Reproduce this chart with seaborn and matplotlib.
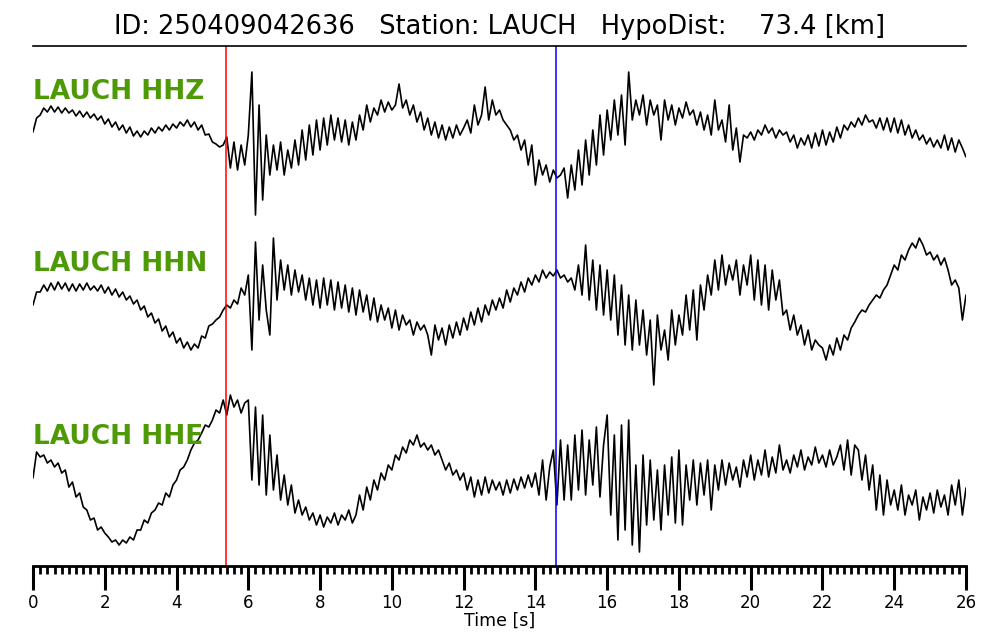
import numpy as np
import matplotlib
matplotlib.use("Agg")
import matplotlib.pyplot as plt
import seaborn as sns

# 波形データ（0.1秒ごとに読み取った振幅，上向きが正）
dt = 0.1
hhz = [
    -2, 12, 15, 22, 18, 24, 18, 23, 17, 22,
    17, 20, 14, 19, 13, 18, 12, 16, 10, 14,
    6, 11, 3, 8, 0, 5, -3, 3, -6, -1,
    -7, -1, -5, 2, -3, 3, -1, 5, 0, 6,
    2, 8, 4, 10, 3, 8, 0, 5, -5, -4,
    -12, -14, -17, -15, -7, -38, -12, -40, -15, -35,
    -5, 58, -85, 25, -70, -5, -45, -15, -40, -12,
    -45, -20, -38, -10, -35, 0, -30, 5, -25, 10,
    -20, 12, -15, 15, -10, 12, -12, 10, -15, 8,
    -10, 15, 0, 25, 8, 22, 15, 30, 18, 28,
    20, 25, 46, 22, 30, 15, 25, 8, 18, 0,
    12, -5, 8, -8, 5, -10, 3, -8, 5, -5,
    2, 10, -3, 25, 5, 15, 43, 10, 30, 15,
    20, 10, 5, 0, -10, -5, -20, -10, -35, -15,
    -55, -30, -45, -35, -52, -40, -48, -45, -38, -68,
    -35, -60, -20, -55, -10, -45, 0, -35, 15, -25,
    20, -10, 30, -5, 35, -15, 58, 10, 30, 15,
    35, 5, 30, 15, 25, -10, 30, 10, 25, 5,
    22, 12, 28, 15, 20, 5, 18, 0, 15, -5,
    30, 0, 10, -12, 25, -20, 2, -32, -5, -8,
    -2, -10, 0, -5, 5, -3, 2, -8, 0, -5,
    -2, -12, -5, -18, -8, -15, -5, -18, -3, -16,
    0, -15, -2, -12, 3, -8, 5, 0, 8, 3,
    12, 5, 15, 8, 10, 2, 12, 0, 12, -2,
    12, -3, 10, -5, 5, -8, 0, -10, -5, -14,
    -8, -17, -10, -18, -5, -20, -8, -22, -10, -18,
    -27,
]
hhn = [
    -5, 8, 8, 15, 9, 17, 10, 18, 11, 17,
    9, 16, 9, 16, 10, 17, 10, 14, 9, 15,
    7, 13, 5, 11, 3, 8, 0, 4, -4, 0,
    -10, -6, -17, -13, -23, -19, -31, -26, -37, -32,
    -43, -38, -48, -42, -50, -44, -48, -36, -38, -26,
    -24, -20, -17, -10, -5, -8, 0, -4, 12, 5,
    25, -50, 58, -20, 35, -10, -35, 62, 0, 40,
    10, 35, 5, 30, 8, 25, 0, 22, -5, 20,
    -8, 22, -5, 20, -10, 18, -8, 15, -12, 12,
    -15, 10, -12, 5, -20, 2, -22, -5, -20, -8,
    -28, -10, -30, -15, -25, -20, -35, -22, -30, -25,
    -35, -55, -25, -40, -28, -45, -25, -38, -22, -35,
    -18, -30, -12, -25, -8, -22, -5, -15, 0, -10,
    2, -8, 10, -2, 12, 5, 18, 8, 22, 15,
    25, 18, 30, 22, 28, 24, 30, 22, 25, 18,
    22, 10, 35, 5, 55, 0, 40, -10, 35, -15,
    30, -20, 25, -35, 15, -45, 5, -50, 0, -45,
    -10, -55, -20, -85, -15, -50, -30, -60, -10, -45,
    -15, -35, 5, -30, 10, -40, 15, -10, 25, 5,
    40, 10, 45, 15, 35, 20, 40, 5, 35, 15,
    45, 0, 40, -5, 35, -10, 30, 0, 20, -15,
    -10, -30, -15, -35, -25, -45, -30, -50, -40, -45,
    -48, -60, -45, -55, -38, -50, -35, -40, -28, -22,
    -15, -10, -12, -5, 0, 5, 2, 10, 15, 25,
    35, 30, 45, 40, 50, 57, 52, 62, 55, 45,
    48, 40, 45, 35, 42, 30, 15, 20, 12, -20,
    5,
]
hhe = [
    7, 33, 28, 30, 22, 25, 18, 22, 12, 15,
    -2, 3, -12, -8, -22, -25, -35, -33, -45, -42,
    -48, -52, -57, -55, -60, -55, -58, -52, -55, -45,
    -45, -35, -38, -28, -25, -18, -20, -8, -12, 0,
    5, 15, 18, 25, 35, 42, 45, 52, 60, 58,
    65, 75, 72, 85, 70, 90, 78, 85, 72, 82,
    85, 5, 78, 0, 70, -10, 50, -5, 30, -15,
    10, -20, 0, -28, -15, -30, -22, -35, -28, -40,
    -30, -42, -32, -38, -28, -40, -30, -35, -25, -38,
    -30, -10, -25, -2, -15, 5, -5, 12, 5, 20,
    15, 30, 25, 38, 32, 45, 40, 50, 38, 42,
    35, 40, 30, 35, 25, 15, 22, 10, 15, 5,
    12, -5, 8, -12, 5, -10, 8, -8, 5, -5,
    3, -10, 5, -8, 6, -5, 8, -3, 10, -2,
    12, -10, 25, -15, 18, 35, -20, 45, -15, 40,
    -15, 50, -5, 55, -10, 45, 0, 58, -12, 40,
    70, -30, 50, -55, 60, -45, 65, -60, 20, -67,
    30, -40, 25, -35, 15, -45, 20, -30, 28, -38,
    35, -40, 20, -15, 25, -20, 22, -10, 25, -25,
    20, -5, 25, 0, 22, 5, 18, -2, 25, 8,
    30, 5, 25, 10, 35, 8, 28, 12, 40, 15,
    25, 12, 30, 18, 35, 15, 28, 20, 38, 22,
    30, 18, 35, 20, 28, 40, 15, 45, 10, 40,
    35, 5, 30, -5, 20, -25, 10, -30, 5, -20,
    -5, -25, 0, -30, -10, -20, -5, -35, -12, -25,
    -8, -28, -5, -22, -10, -30, 0, -20, 5, -30,
    -3,
]
channels = ["LAUCH HHZ", "LAUCH HHN", "LAUCH HHE"]
traces = [hhz, hhn, hhe]
offsets = [436, 266, 81]
label_y = [474, 302, 129]

event_id = "250409042636"
station = "LAUCH"
hypo_dist = 73.4
p_pick = 5.38
s_pick = 14.57

sns.set_style("white")
plt.rcParams["font.family"] = ["DejaVu Sans"]
plt.rcParams["text.color"] = "black"
plt.rcParams["axes.labelcolor"] = "black"
plt.rcParams["xtick.color"] = "black"
plt.rcParams["axes.edgecolor"] = "black"

fig = plt.figure(figsize=(10, 6.4), dpi=100)
ax = fig.add_axes([0.033, 0.1156, 0.933, 0.8125])

for name, tr, off, ly in zip(channels, traces, offsets, label_y):
    tr = np.array(tr, dtype=float)
    t = np.round(np.arange(len(tr)) * dt, 2)
    sns.lineplot(x=t, y=tr + off, color="black", linewidth=1.2, ax=ax)
    ax.text(0, ly, name, color="#4e9a06", fontsize=19, fontweight="bold",
            ha="left", va="center", zorder=5)

# P波・S波の読み取り時刻
ax.axvline(p_pick, color="red", linewidth=1.1)
ax.axvline(s_pick, color="blue", linewidth=1.1)

ax.set_xlim(0, 26)
ax.set_ylim(0, 520)
ax.set_yticks([])
ax.set_xticks(np.arange(0, 27, 2))
ax.set_xticks(np.arange(0, 26.01, 0.2), minor=True)
ax.tick_params(axis="x", which="both", bottom=True, colors="black", direction="out")
ax.tick_params(axis="x", which="major", length=17, width=2.2, labelsize=12, pad=3)
ax.tick_params(axis="x", which="minor", length=6, width=2)
ax.set_xlabel("Time [s]", fontsize=12.5, labelpad=0)
for side in ["left", "right"]:
    ax.spines[side].set_visible(False)
ax.spines["top"].set_linewidth(1.2)
ax.spines["top"].set_color("black")
ax.spines["bottom"].set_linewidth(2)
ax.spines["bottom"].set_color("black")

title = f"ID: {event_id}   Station: {station}   HypoDist: {hypo_dist:7.1f} [km]"
fig.text(0.5, 1 - 27 / 640, title, ha="center", va="center", fontsize=18.5)

fig.savefig("out.png", dpi=100)
